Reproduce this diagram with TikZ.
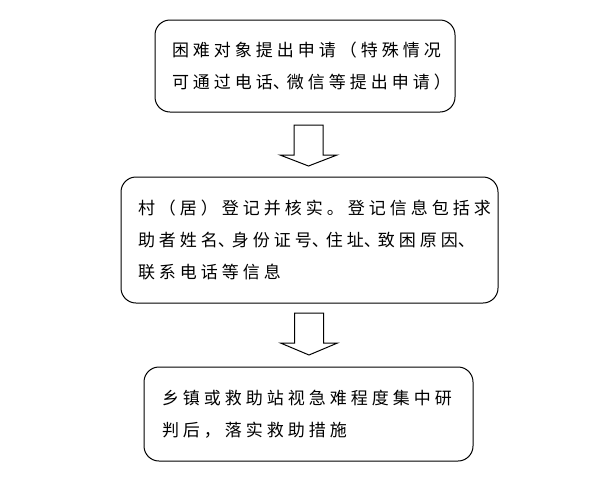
\documentclass[tikz,border=0pt]{standalone}
\usepackage{fontspec}
\newfontfamily\cjk[LetterSpace=23.5]{Noto Sans CJK SC}
% narrow enumeration comma, as the reference compresses it
\newcommand{\dunhao}{\makebox[14pt][l]{、}}
\tikzset{
  stepbox/.style={draw, line width=1pt, rounded corners=15pt, align=left,
    inner ysep=0pt, inner xsep=17pt, font=\cjk\fontsize{17}{32}\selectfont},
  blockarrow/.style={draw, line width=1pt}
}
\begin{document}
\begin{tikzpicture}[x=1pt, y=-1pt]

    % Fix the page to the reference size
    \useasboundingbox (0,0) rectangle (610,493);

    % The three steps, top to bottom
    \node[stepbox, text width=266pt, minimum width=300pt, minimum height=92pt] (apply) at (305,66)
        {困难对象提出申请（特殊情况\\可通过电话\dunhao 微信等提出申请）};
    \node[stepbox, text width=343pt, minimum width=377pt, minimum height=126pt] (check) at (309.5,240)
        {村（居）登记并核实。登记信息包括求\\助者姓名\dunhao 身份证号\dunhao 住址\dunhao 致困原因\dunhao\\联系电话等信息};
    \node[stepbox, inner xsep=18pt, text width=293pt, minimum width=329pt, minimum height=94pt] (assist) at (308.5,414)
        {乡镇或救助站视急难程度集中研\\判后，落实救助措施};

    % Top of the hollow arrows between the boxes
    \coordinate (arr1) at (308,125);
    \coordinate (arr2) at (308.5,313);

    % Hollow down arrows: shaft 28 wide, head 57 wide
    \draw[blockarrow] (arr1) ++(-14,0) -- ++(0,30) -- ++(-14,0) -- ++(28.5,11)
        -- ++(28.5,-11) -- ++(-14,0) -- ++(0,-30) -- cycle;
    \draw[blockarrow] (arr2) ++(-14,0) -- ++(0,30) -- ++(-14,0) -- ++(28.5,12)
        -- ++(28.5,-12) -- ++(-14,0) -- ++(0,-30) -- cycle;

\end{tikzpicture}
\end{document}
